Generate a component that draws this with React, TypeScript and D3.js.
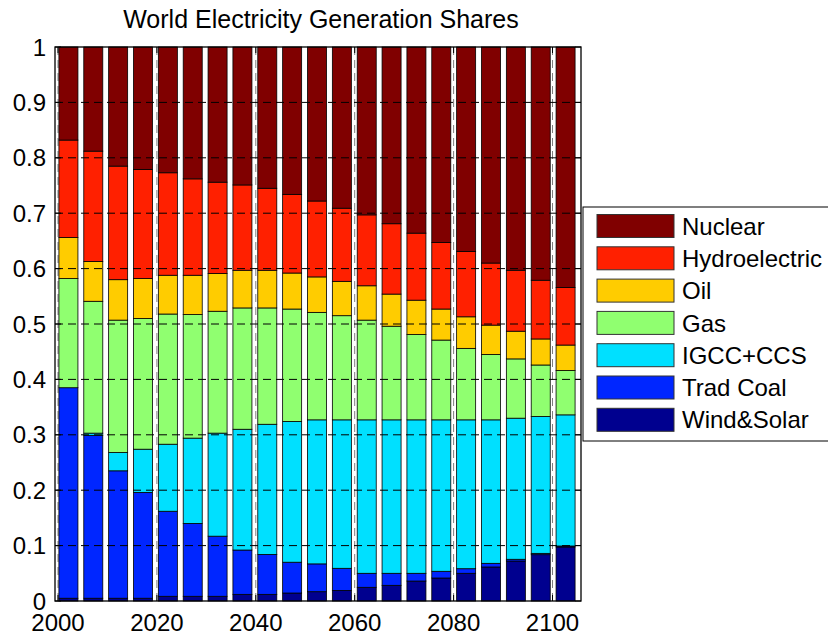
import React from "react";
import * as d3 from "d3";

const years = [2000, 2005, 2010, 2015, 2020, 2025, 2030, 2035, 2040, 2045, 2050, 2055, 2060, 2065, 2070, 2075, 2080, 2085, 2090, 2095, 2100];

const windSolar = [0.005, 0.005, 0.005, 0.005, 0.0085, 0.0085, 0.0085, 0.012, 0.012, 0.0144, 0.0168, 0.019, 0.0247, 0.0283, 0.036, 0.0415, 0.05, 0.0614, 0.0722, 0.0836, 0.0975];
const tradCoal = [0.38, 0.294, 0.23, 0.191, 0.1535, 0.1315, 0.1085, 0.08, 0.072, 0.0556, 0.0502, 0.04, 0.0253, 0.0217, 0.014, 0.0121, 0.0083, 0.0066, 0.0031, 0.0024, 0.0018];
const igccCcs = [0, 0.004, 0.033, 0.078, 0.121, 0.154, 0.186, 0.218, 0.235, 0.254, 0.26, 0.268, 0.277, 0.277, 0.277, 0.2734, 0.2687, 0.259, 0.2547, 0.247, 0.2367];
const gas = [0.197, 0.238, 0.239, 0.236, 0.235, 0.223, 0.22, 0.219, 0.21, 0.203, 0.194, 0.188, 0.18, 0.169, 0.154, 0.144, 0.129, 0.118, 0.107, 0.093, 0.08];
const oil = [0.074, 0.072, 0.073, 0.072, 0.07, 0.071, 0.068, 0.068, 0.068, 0.065, 0.064, 0.062, 0.062, 0.058, 0.062, 0.056, 0.057, 0.053, 0.05, 0.047, 0.046];
const hydro = [0.176, 0.199, 0.205, 0.197, 0.185, 0.174, 0.165, 0.154, 0.148, 0.142, 0.137, 0.132, 0.128, 0.127, 0.121, 0.12, 0.118, 0.112, 0.11, 0.106, 0.104];
const nuclear = [0.168, 0.188, 0.215, 0.221, 0.227, 0.238, 0.244, 0.249, 0.255, 0.266, 0.278, 0.291, 0.303, 0.319, 0.336, 0.353, 0.369, 0.39, 0.403, 0.421, 0.434];

const seriesNames = ["Wind&Solar", "Trad Coal", "IGCC+CCS", "Gas", "Oil", "Hydroelectric", "Nuclear"];
const seriesValues = [windSolar, tradCoal, igccCcs, gas, oil, hydro, nuclear];
const seriesColors = ["#00008f", "#0026ff", "#00e0ff", "#90ff70", "#ffcc00", "#ff2000", "#800000"];

const yTicks = [0, 0.1, 0.2, 0.3, 0.4, 0.5, 0.6, 0.7, 0.8, 0.9, 1];
const xTicks = [2000, 2020, 2040, 2060, 2080, 2100];

const FONT = "'Liberation Sans', Arial, Helvetica, sans-serif";

export default function App() {
  const W = 828, H = 635;
  const left = 55, right = 581, top = 47, bottom = 601;

  const xBand = d3.scaleBand<number>().domain(years).range([56, 578]).paddingInner(0.235).paddingOuter(0.1175);
  const xLin = d3.scaleLinear().domain([2000, 2100]).range([58, 552.5]);
  const y = d3.scaleLinear().domain([0, 1]).range([bottom, top]);

  const table = years.map((yr, i) => {
    const row: any = { year: yr };
    seriesNames.forEach((n, k) => (row[n] = seriesValues[k][i]));
    return row;
  });
  const stack = d3.stack<any>().keys(seriesNames)(table);

  const legendOrder = [...seriesNames].reverse();
  const legX = 583, legY = 207, legRow = 32.3;

  return (
    <svg width={W} height={H} style={{ position: "absolute", left: 0, top: 0, background: "#fff" }} fontFamily={FONT}>
      <rect x={0} y={0} width={W} height={H} fill="#fff" />
      <rect x={left} y={top} width={right - left} height={bottom - top} fill="#fff" />
      {stack.map((layer, k) => (
        <g key={layer.key}>
          {layer.map((d, i) => (
            <rect
              key={i}
              x={xBand(years[i])}
              width={xBand.bandwidth()}
              y={y(Math.min(d[1], 1))}
              height={Math.max(0, y(d[0]) - y(Math.min(d[1], 1)))}
              fill={seriesColors[k]}
              stroke="#000"
              strokeWidth={0.8}
            />
          ))}
        </g>
      ))}
      {/* grid */}
      {yTicks.filter((t) => t > 0 && t < 1).map((t) => (
        <line key={"gy" + t} x1={left} x2={right} y1={y(t)} y2={y(t)} stroke="#000" strokeWidth={1} strokeDasharray="8,5" />
      ))}
      {xTicks.map((t) => (
        <line key={"gx" + t} x1={xLin(t)} x2={xLin(t)} y1={top} y2={bottom} stroke="#000" strokeWidth={1} strokeDasharray="8,5" opacity={0.5} />
      ))}
      {/* axes box */}
      <rect x={left} y={top} width={right - left} height={bottom - top} fill="none" stroke="#000" strokeWidth={1.3} />
      {yTicks.map((t) => (
        <g key={"yt" + t}>
          <line x1={left} x2={left + 6} y1={y(t)} y2={y(t)} stroke="#000" />
          <line x1={right - 6} x2={right} y1={y(t)} y2={y(t)} stroke="#000" />
          <text x={left - 9} y={y(t)} dy="0.36em" textAnchor="end" fontSize={24} fill="#000">
            {d3.format("~g")(t)}
          </text>
        </g>
      ))}
      {xTicks.map((t) => (
        <g key={"xt" + t}>
          <line x1={xLin(t)} x2={xLin(t)} y1={bottom} y2={bottom - 6} stroke="#000" />
          <line x1={xLin(t)} x2={xLin(t)} y1={top} y2={top + 6} stroke="#000" />
          <text x={xLin(t)} y={631} textAnchor="middle" fontSize={24} fill="#000">
            {t}
          </text>
        </g>
      ))}
      <text x={(left + right) / 2 + 3} y={28} textAnchor="middle" fontSize={25} fill="#000">
        World Electricity Generation Shares
      </text>
      {/* legend */}
      <rect x={legX} y={legY} width={260} height={234} fill="#fff" stroke="#000" strokeWidth={1} />
      {legendOrder.map((name, i) => {
        const k = seriesNames.indexOf(name);
        const cy = 226 + i * legRow;
        return (
          <g key={name}>
            <rect x={597} y={cy - 11.5} width={77} height={23} fill={seriesColors[k]} stroke="#333" strokeWidth={1} />
            <text x={682} y={cy} dy="0.36em" fontSize={24} fill="#000">
              {name}
            </text>
          </g>
        );
      })}
    </svg>
  );
}
